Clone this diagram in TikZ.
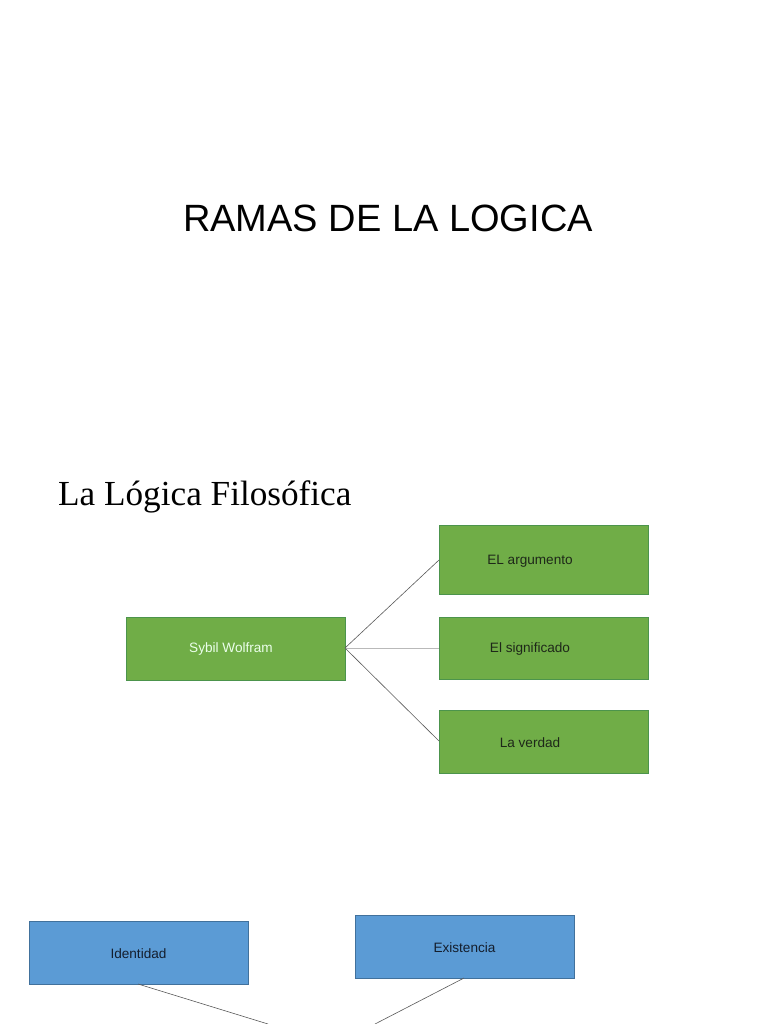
\documentclass[tikz,border=0pt]{standalone}
\usepackage{fontspec}
\setmainfont{Liberation Serif}
\setsansfont{Liberation Sans}
\begin{document}
\begin{tikzpicture}[x=1pt,y=-1pt,
  gbox/.style={draw=green!40!black!70!white, fill={rgb,255:red,112;green,173;blue,71}, line width=0.8pt, font=\sffamily\fontsize{13.6}{15}\selectfont, text={rgb,255:red,30;green,40;blue,25}},
  bbox/.style={draw={rgb,255:red,65;green,113;blue,156}, fill={rgb,255:red,91;green,155;blue,213}, line width=0.8pt, font=\sffamily\fontsize{13.6}{15}\selectfont, text={rgb,255:red,20;green,30;blue,45}},
  conn/.style={draw={rgb,255:red,90;green,90;blue,90}, line width=0.6pt}]
\useasboundingbox (0,0) rectangle (768,1024);
\fill[white] (0,0) rectangle (768,1024);
\node (title) at (388,218) {\sffamily\fontsize{38}{44}\selectfont RAMAS DE LA LOGICA};
\node[anchor=west,inner sep=0pt] (sub) at (58,497) {\fontsize{35.2}{40}\selectfont La Lógica Filosófica};
\path[gbox] (126,617) rectangle (345,680);
\node[text=white!92!green,font=\sffamily\fontsize{13.6}{15}\selectfont] (sybil) at (231,649) {Sybil Wolfram};
\coordinate (sR) at (345,648);
\path[gbox] (439,525) rectangle (648,594);
\node[gbox,draw=none,fill=none] (arg) at (530,561) {EL argumento};
\path[gbox] (439,617) rectangle (648,679);
\node[gbox,draw=none,fill=none] (sig) at (530,649) {El significado};
\path[gbox] (439,710) rectangle (648,773);
\node[gbox,draw=none,fill=none] (ver) at (530,743) {La verdad};
\coordinate (aL) at (439,560);
\coordinate (sL) at (439,648);
\coordinate (vL) at (439,741);
\draw[conn] (sR) -- (aL);
\draw[conn,draw={rgb,255:red,185;green,185;blue,185}] (sR) -- (sL);
\draw[conn] (sR) -- (vL);
\path[bbox] (29,921) rectangle (248,984);
\node[bbox,draw=none,fill=none] (ide) at (138.5,954) {Identidad};
\path[bbox] (355,915) rectangle (574,978);
\node[bbox,draw=none,fill=none] (exi) at (464.5,948) {Existencia};
\coordinate (iB) at (138,984);
\coordinate (eB) at (464,978);
\coordinate (iEnd) at (268,1024);
\coordinate (eEnd) at (375,1024);
\draw[conn] (iB) -- (iEnd);
\draw[conn] (eB) -- (eEnd);
\end{tikzpicture}
\end{document}
